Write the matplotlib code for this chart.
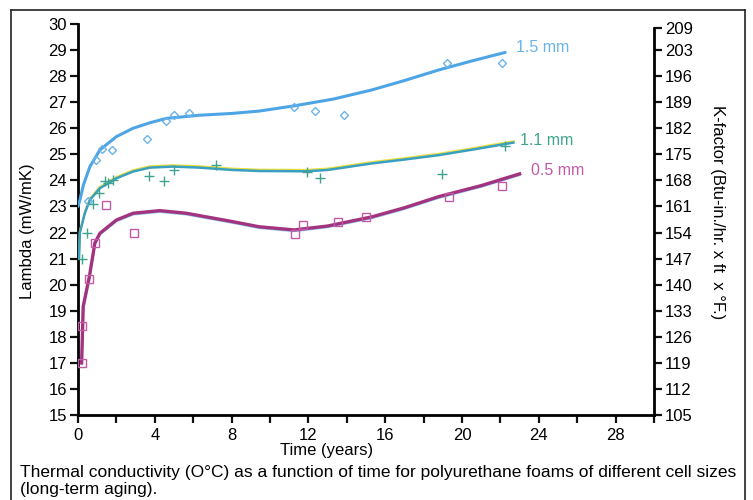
import matplotlib
matplotlib.use('Agg')
import matplotlib.pyplot as plt
import matplotlib.transforms as mtransforms
from matplotlib.lines import Line2D

plt.rcParams['font.family'] = ['Liberation Sans', 'DejaVu Sans']

# measured points (years, mW/mK)
blue_x = [0.52, 0.92, 1.26, 1.75, 3.58, 4.57, 4.98, 5.8, 11.26, 12.35, 13.87, 19.24, 22.07]
blue_y = [23.2, 24.8, 25.2, 25.18, 25.59, 26.29, 26.5, 26.6, 26.83, 26.67, 26.5, 28.49, 28.52]
green_x = [0.19, 0.48, 0.8, 1.07, 1.42, 1.56, 1.8, 3.68, 4.48, 5.02, 7.2, 11.95, 12.6, 18.94, 22.25]
green_y = [21.0, 22.0, 23.1, 23.53, 23.98, 23.9, 24.0, 24.18, 23.98, 24.4, 24.58, 24.34, 24.1, 24.25, 25.32]
mag_x = [0.19, 0.19, 0.59, 0.88, 1.47, 2.9, 11.3, 11.74, 13.54, 14.98, 19.3, 22.07]
mag_y = [17.0, 18.42, 20.2, 21.6, 23.05, 21.97, 21.93, 22.29, 22.42, 22.58, 23.38, 23.79]

# fitted curves
blue_cx = [0.0, 0.1, 0.28, 0.62, 1.14, 2.0, 2.87, 3.74, 4.6, 6.33, 8.04, 9.44, 11.26, 13.3, 15.3, 17.0, 18.8, 20.5, 22.25]
blue_cy = [23.0, 23.25, 23.82, 24.53, 25.17, 25.68, 26.0, 26.21, 26.38, 26.5, 26.57, 26.66, 26.86, 27.12, 27.47, 27.83, 28.24, 28.58, 28.91]
green_cx = [0.05, 0.1, 0.36, 0.62, 1.14, 2.0, 2.87, 3.74, 4.93, 6.33, 8.04, 9.44, 11.9, 13.0, 15.3, 17.0, 18.8, 20.7, 22.68]
green_cy = [21.0, 22.0, 22.75, 23.25, 23.7, 24.08, 24.34, 24.49, 24.53, 24.49, 24.4, 24.36, 24.35, 24.4, 24.65, 24.8, 24.97, 25.2, 25.45]
mag_cx = [0.19, 0.27, 0.59, 0.88, 1.14, 2.0, 2.87, 4.26, 5.64, 8.04, 9.44, 11.26, 13.0, 15.3, 17.0, 18.8, 21.0, 23.0]
mag_cy = [17.0, 19.16, 20.3, 21.6, 21.97, 22.48, 22.74, 22.84, 22.74, 22.42, 22.22, 22.1, 22.25, 22.6, 22.95, 23.38, 23.8, 24.25]

kfactor_ticks = [105, 112, 119, 126, 133, 140, 147, 154, 161, 168, 175, 182, 189, 196, 203, 209]

fig = plt.figure(figsize=(7.53, 5.0), dpi=100)
ax = fig.add_axes([78 / 753, 1 - 415 / 500, (654 - 78) / 753, (415 - 24) / 500])
ax.set_xlim(0, 30)
ax.set_ylim(15, 30)

c_blue = '#4ea5e6'
c_blue_m = '#6bb4e8'
c_green = '#3fa38f'
c_teal = '#3a9fc0'
c_mag = '#a3337f'
c_mag_m = '#c25aa6'

# curves
ax.plot(blue_cx, blue_cy, color=c_blue, lw=2.2, solid_capstyle='round', zorder=3)
up = mtransforms.offset_copy(ax.transData, fig=fig, x=0, y=1.3, units='dots')
ax.plot(green_cx, green_cy, color='#e8e040', lw=1.6, transform=up, zorder=3)
ax.plot(green_cx, green_cy, color=c_teal, lw=1.8, zorder=3)
down = mtransforms.offset_copy(ax.transData, fig=fig, x=0, y=-1.2, units='dots')
ax.plot(mag_cx, mag_cy, color='#8cc8ee', lw=1.6, transform=down, zorder=3)
ax.plot(mag_cx, mag_cy, color=c_mag, lw=2.4, zorder=3)

# points
ax.plot(blue_x, blue_y, ls='none', marker='D', ms=4.5, mfc='none', mec=c_blue_m, mew=1.0, zorder=4)
ax.plot(green_x, green_y, ls='none', marker='+', ms=7, mec=c_green, mew=1.0, zorder=4)
ax.plot(mag_x, mag_y, ls='none', marker='s', ms=5.5, mfc='none', mec=c_mag_m, mew=1.0, zorder=4)

ax.text(22.8, 28.8, '1.5 mm', color=c_blue_m, fontsize=11.5, va='bottom')
ax.text(23.0, 25.25, '1.1 mm', color=c_green, fontsize=11.5, va='bottom')
ax.text(23.6, 24.1, '0.5 mm', color=c_mag_m, fontsize=11.5, va='bottom')

# axes styling
for s in ['top', 'right']:
    ax.spines[s].set_visible(False)
ax.spines['left'].set_linewidth(2)
ax.spines['bottom'].set_linewidth(2)
ax.set_xticks(range(0, 31, 2))
ax.set_xticklabels([str(v) if v % 4 == 0 and v < 30 else '' for v in range(0, 31, 2)])
ax.set_yticks(range(15, 31))
ax.tick_params(axis='both', direction='out', length=6, width=1.6, labelsize=12, pad=2, color='#111111')
ax.tick_params(axis='x', pad=3)
ax.set_xlabel('Time (years)', fontsize=12)
ax.xaxis.set_label_coords(0.432, -0.072)
ax.set_ylabel('Lambda (mW/mK)', fontsize=12)
ax.yaxis.set_label_coords(-0.075, 0.47)

ax2 = ax.twinx()
ax2.set_ylim(15, 30)
for s in ['top', 'left', 'bottom']:
    ax2.spines[s].set_visible(False)
ax2.spines['right'].set_linewidth(2)
ax2.spines['right'].set_bounds(15, 209 / 7)
ax2.set_yticks([k / 7 for k in kfactor_ticks])
ax2.set_yticklabels([str(k) for k in kfactor_ticks])
ax2.tick_params(axis='y', direction='out', length=6, width=1.6, labelsize=12, pad=2, color='#111111')
ax2.set_ylabel('K-factor (Btu-in./hr. x ft  x \u00b0F.)', fontsize=12, rotation=-90, va='center')
ax2.yaxis.set_label_coords(1.111, 0.52)

# outer frame
fig.add_artist(Line2D([11 / 753, 745 / 753], [1 - 10 / 500, 1 - 10 / 500], color='#222222', lw=1.2))
fig.add_artist(Line2D([11 / 753, 11 / 753], [1 - 10 / 500, 0], color='#222222', lw=1.2))
fig.add_artist(Line2D([745 / 753, 745 / 753], [1 - 10 / 500, 0], color='#222222', lw=1.2))

fig.text(20 / 753, 1 - 481 / 500,
         'Thermal conductivity (O\u00b0C) as a function of time for polyurethane foams of different cell sizes\n(long-term aging).',
         fontsize=12.5, va='center', ha='left', linespacing=1.1)

fig.savefig('out.png', dpi=100)
